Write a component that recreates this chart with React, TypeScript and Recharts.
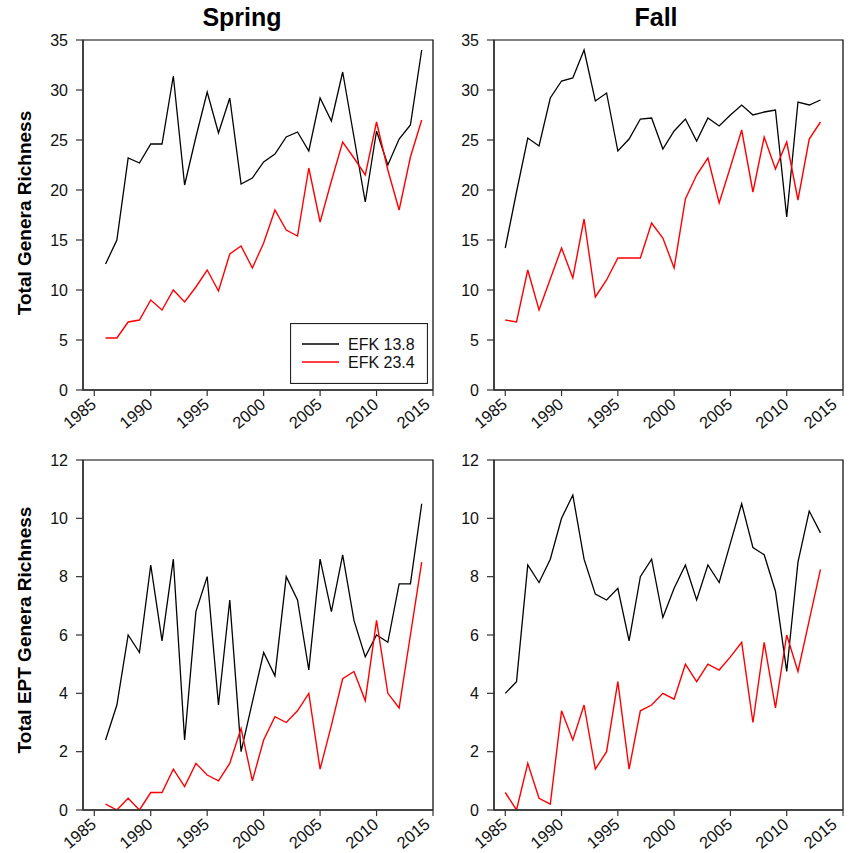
import React from 'react';
import { LineChart, Line, XAxis, YAxis, ReferenceArea, Legend } from 'recharts';

const springYears = [1986,1987,1988,1989,1990,1991,1992,1993,1994,1995,1996,1997,1998,1999,2000,2001,2002,2003,2004,2005,2006,2007,2008,2009,2010,2011,2012,2013,2014];
const fallYears = [1985,1986,1987,1988,1989,1990,1991,1992,1993,1994,1995,1996,1997,1998,1999,2000,2001,2002,2003,2004,2005,2006,2007,2008,2009,2010,2011,2012,2013];

const springTotal138 = [12.6,15.0,23.2,22.7,24.6,24.6,31.4,20.5,25.3,29.8,25.7,29.2,20.6,21.2,22.8,23.6,25.3,25.8,23.9,29.2,26.9,31.8,25.3,18.8,25.9,22.5,25.1,26.5,34.0];
const springTotal234 = [5.2,5.2,6.8,7.0,9.0,8.0,10.0,8.8,10.3,12.0,9.9,13.6,14.4,12.2,14.7,18.0,16.0,15.4,22.2,16.8,20.9,24.8,23.2,21.5,26.8,22.0,18.0,23.3,27.0];
const fallTotal138 = [14.2,19.8,25.2,24.4,29.2,30.9,31.2,34.0,28.9,29.7,23.9,25.1,27.1,27.2,24.1,25.9,27.1,24.9,27.2,26.4,27.5,28.5,27.5,27.8,28.0,17.3,28.8,28.5,29.0];
const fallTotal234 = [7.0,6.8,12.0,8.0,11.1,14.2,11.2,17.1,9.3,11.0,13.2,13.2,13.2,16.7,15.2,12.2,19.1,21.5,23.2,18.7,22.3,26.0,19.8,25.3,22.1,24.8,19.0,25.1,26.8];
const springEPT138 = [2.4,3.6,6.0,5.4,8.4,5.8,8.6,2.4,6.8,8.0,3.6,7.2,2.0,3.7,5.4,4.6,8.0,7.2,4.8,8.6,6.8,8.75,6.5,5.25,6.0,5.75,7.75,7.75,10.5];
const springEPT234 = [0.2,0,0.4,0,0.6,0.6,1.4,0.8,1.6,1.2,1.0,1.6,2.8,1.0,2.4,3.2,3.0,3.4,4.0,1.4,2.9,4.5,4.75,3.75,6.5,4.0,3.5,6.0,8.5];
const fallEPT138 = [4.0,4.4,8.4,7.8,8.6,10.0,10.8,8.6,7.4,7.2,7.6,5.8,8.0,8.6,6.6,7.6,8.4,7.2,8.4,7.8,9.15,10.5,9.0,8.75,7.5,4.75,8.5,10.25,9.5];
const fallEPT234 = [0.6,0,1.6,0.4,0.2,3.4,2.4,3.6,1.4,2.0,4.4,1.4,3.4,3.6,4.0,3.8,5.0,4.4,5.0,4.8,5.25,5.75,3.0,5.75,3.5,6.0,4.75,6.5,8.25];

const xTicks = [1985,1990,1995,2000,2005,2010,2015];
const totalTicks = [0,5,10,15,20,25,30,35];
const eptTicks = [0,2,4,6,8,10,12];
const seriesNames = ['EFK 13.8', 'EFK 23.4'];
const seasonTitles = ['Spring', 'Fall'];
const yTitles = ['Total Genera Richness', 'Total EPT Genera Richness'];

const FONT = '"Liberation Sans", Arial, Helvetica, sans-serif';
const COLORS = ['#000000', '#ff0000'];

const build = (years: number[], a: number[], b: number[]) =>
  years.map((yr, i) => ({ year: yr, s1: a[i], s2: b[i] }));

const XTick = (props: any) => {
  const { x, y, payload } = props;
  return (
    <text
      x={0}
      y={0}
      transform={`translate(${x + 3},${y + 8}) rotate(-40)`}
      textAnchor="end"
      fontSize={16.5}
      fill="#111"
      fontFamily={FONT}
    >
      {payload.value}
    </text>
  );
};

const LegendBox = () => (
  <svg width={138} height={61} style={{ display: 'block' }}>
    <rect x={0.5} y={0.5} width={137} height={60} fill="#fff" stroke="#222" strokeWidth={1.2} />
    <line x1={12} x2={49} y1={21} y2={21} stroke={COLORS[0]} strokeWidth={1.3} />
    <line x1={12} x2={49} y1={39} y2={39} stroke={COLORS[1]} strokeWidth={1.5} />
    <text x={58} y={27} fontSize={16} fill="#111" fontFamily={FONT}>{seriesNames[0]}</text>
    <text x={58} y={45} fontSize={16} fill="#111" fontFamily={FONT}>{seriesNames[1]}</text>
  </svg>
);

type PanelProps = {
  data: any[];
  yMax: number;
  yTicks: number[];
  left: number;
  top: number;
  width: number;
  height: number;
  margin: { top: number; right: number; left: number; bottom: number };
  yWidth: number;
  legend?: boolean;
};

const Panel = ({ data, yMax, yTicks, left, top, width, height, margin, yWidth, legend }: PanelProps) => (
  <div style={{ position: 'absolute', left, top, width, height }}>
    <LineChart width={width} height={height} data={data} margin={margin}>
      <XAxis
        dataKey="year"
        type="number"
        domain={[1984, 2015]}
        ticks={xTicks}
        allowDataOverflow
        height={40}
        tickSize={6}
        tickMargin={2}
        tick={<XTick />}
        axisLine={{ stroke: '#333', strokeWidth: 1.4 }}
        tickLine={{ stroke: '#333', strokeWidth: 1.2 }}
      />
      <YAxis
        type="number"
        domain={[0, yMax]}
        ticks={yTicks}
        allowDataOverflow
        width={yWidth}
        tickSize={7}
        tickMargin={8}
        tick={{ fontSize: 16, fill: '#111', fontFamily: FONT }}
        axisLine={{ stroke: '#333', strokeWidth: 1.4 }}
        tickLine={{ stroke: '#333', strokeWidth: 1.2 }}
      />
      <ReferenceArea x1={1984} x2={2015} y1={0} y2={yMax} fill="none" stroke="#000" strokeWidth={1.2} ifOverflow="visible" />
      <Line type="linear" dataKey="s1" name={seriesNames[0]} stroke={COLORS[0]} strokeWidth={1.3} dot={false} isAnimationActive={false} />
      <Line type="linear" dataKey="s2" name={seriesNames[1]} stroke={COLORS[1]} strokeWidth={1.4} dot={false} isAnimationActive={false} />
      {legend && (
        <Legend
          layout="horizontal"
          verticalAlign="middle"
          align="center"
          content={<LegendBox />}
          wrapperStyle={{ left: 290, top: 323, width: 138, height: 61 }}
        />
      )}
    </LineChart>
  </div>
);

const titleStyle = (cx: number): React.CSSProperties => ({
  position: 'absolute',
  left: cx - 60,
  top: 5,
  width: 120,
  textAlign: 'center',
  fontFamily: FONT,
  fontWeight: 'bold',
  fontSize: 25,
  lineHeight: '25px',
  color: '#000',
});

const yTitleStyle = (cx: number, cy: number): React.CSSProperties => ({
  position: 'absolute',
  left: cx - 140,
  top: cy - 10,
  width: 280,
  height: 20,
  textAlign: 'center',
  fontFamily: FONT,
  fontWeight: 'bold',
  fontSize: 19,
  lineHeight: '20px',
  color: '#000',
  transform: 'rotate(-90deg)',
  transformOrigin: 'center center',
  whiteSpace: 'nowrap',
});

// left panels: svg x 0..444, plot x 83..433 ; right panels: svg x 444..851, plot x 494..843
// top panels: svg y 0..436, plot y 40..390 ; bottom panels: svg y 436..853, plot y 460..810
export default function App() {
  return (
    <div style={{ position: 'absolute', left: 0, top: 0, width: 851, height: 853, background: '#fff', overflow: 'hidden' }}>
      <Panel data={build(springYears, springTotal138, springTotal234)} yMax={35} yTicks={totalTicks}
        left={0} top={0} width={444} height={436} yWidth={60}
        margin={{ top: 40, right: 11, left: 23, bottom: 6 }} legend />
      <Panel data={build(fallYears, fallTotal138, fallTotal234)} yMax={35} yTicks={totalTicks}
        left={444} top={0} width={407} height={436} yWidth={50}
        margin={{ top: 40, right: 8, left: 0, bottom: 6 }} />
      <Panel data={build(springYears, springEPT138, springEPT234)} yMax={12} yTicks={eptTicks}
        left={0} top={436} width={444} height={417} yWidth={60}
        margin={{ top: 24, right: 11, left: 23, bottom: 3 }} />
      <Panel data={build(fallYears, fallEPT138, fallEPT234)} yMax={12} yTicks={eptTicks}
        left={444} top={436} width={407} height={417} yWidth={50}
        margin={{ top: 24, right: 8, left: 0, bottom: 3 }} />
      <div style={titleStyle(242)}>{seasonTitles[0]}</div>
      <div style={titleStyle(656)}>{seasonTitles[1]}</div>
      <div style={yTitleStyle(25, 213)}>{yTitles[0]}</div>
      <div style={yTitleStyle(25, 630)}>{yTitles[1]}</div>
    </div>
  );
}
